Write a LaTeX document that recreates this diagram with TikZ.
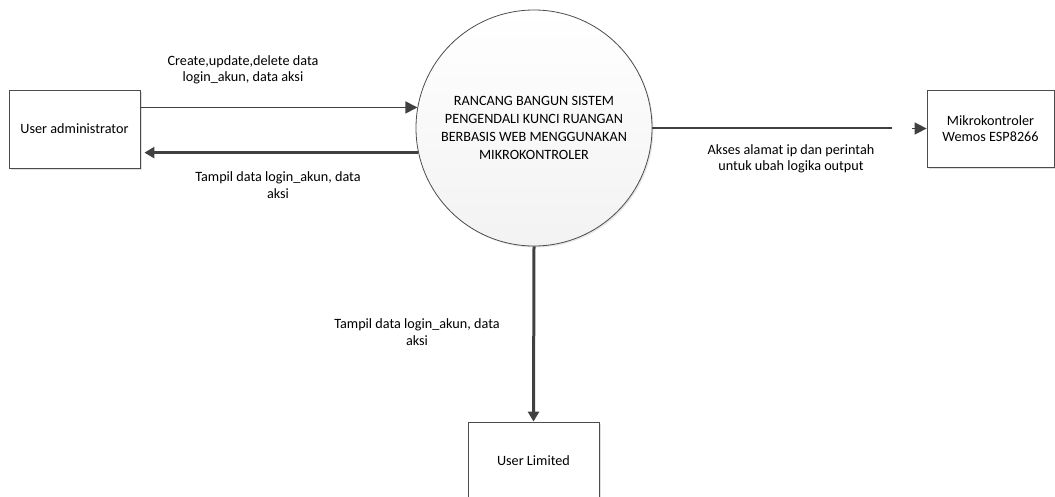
\documentclass[tikz,border=0pt]{standalone}
\usepackage{fontspec}
\setmainfont{Carlito}
\usetikzlibrary{arrows.meta,shadows}

\begin{document}
\begin{tikzpicture}[x=1pt,y=-1pt,
    font=\fontsize{14.2}{16.5}\selectfont,
    entity/.style={draw=black!70,fill=white,line width=0.8pt,minimum width=131,minimum height=78,
      align=center,drop shadow={shadow xshift=1.5pt,shadow yshift=-1.5pt,opacity=0.25}},
    process/.style={circle,draw=black!70,line width=0.8pt,minimum size=236,top color=white,
      bottom color=black!5,align=center,font=\fontsize{14.2}{18}\selectfont,
      drop shadow={shadow xshift=1.5pt,shadow yshift=-1.5pt,opacity=0.2}},
    flow/.style={draw=black!75,line width=1.5pt,-{Triangle[length=12pt,width=12pt]}},
    heavyflow/.style={draw=black!75,line width=3pt,-{Triangle[length=10pt,width=11pt]}},
    lbl/.style={align=center,inner sep=0pt}]
  \path[use as bounding box] (0,0) rectangle (1055,496);
  % entities and process
  \node[entity] (admin) at (74.5,129) {User administrator};
  \node[process] (proc) at (534,128) {RANCANG BANGUN SISTEM\\PENGENDALI KUNCI RUANGAN\\BERBASIS WEB MENGGUNAKAN\\MIKROKONTROLER};
  \node[entity,minimum width=127,minimum height=77] (mikro) at (990.5,128.5) {Mikrokontroler\\Wemos ESP8266};
  \node[entity] (limited) at (533.5,461) {User Limited};
  % flows
  \draw[flow] (admin.east |- proc.170) -- (proc.170);
  \draw[heavyflow,shorten >=4pt] (proc.192) -- (admin.east |- proc.192);
  \coordinate (gap) at (892,128);
  \draw[draw=black!75,line width=1.5pt] (proc.east) -- (gap);
  \draw[flow] ([xshift=-15pt]mikro.west) -- (mikro.west);
  \draw[heavyflow] (proc.south) -- (limited.north);
  % labels
  \node[lbl] (l1) at (243,70) {Create,update,delete data\\login\_akun, data aksi};
  \node[lbl] (l2) at (278,185) {Tampil data login\_akun, data\\aksi};
  \node[lbl] (l3) at (791,159) {Akses alamat ip dan perintah\\untuk ubah logika output};
  \node[lbl] (l4) at (417,332) {Tampil data login\_akun, data\\aksi};
\end{tikzpicture}
\end{document}
